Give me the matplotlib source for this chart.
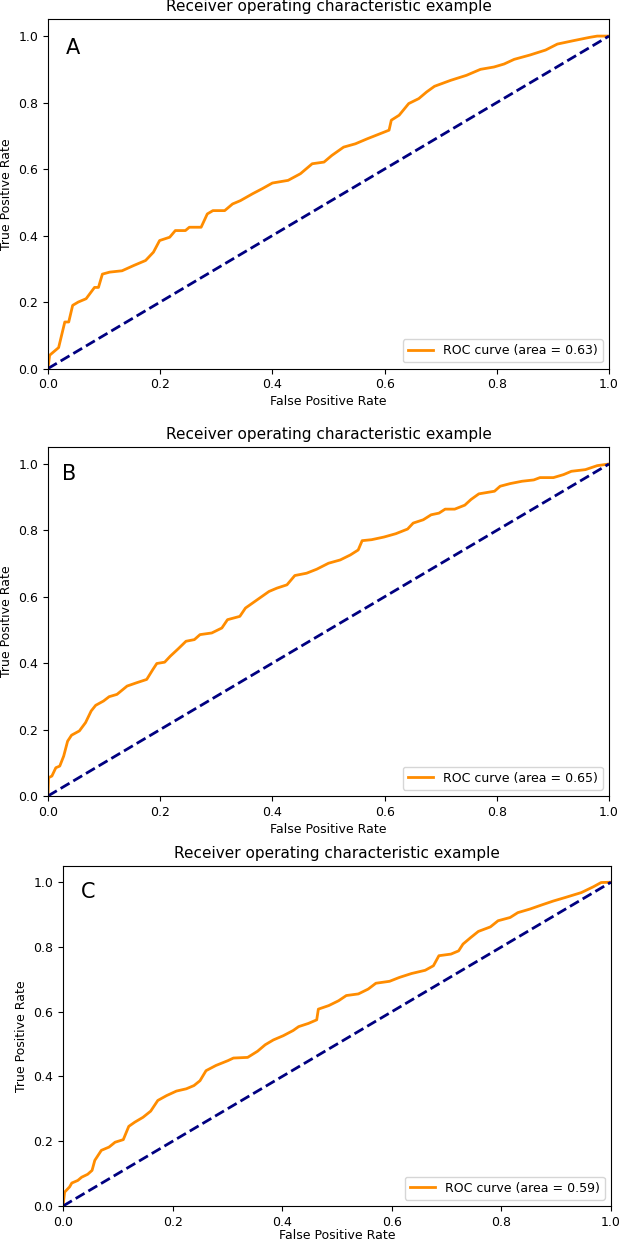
import matplotlib
matplotlib.use("Agg")
import matplotlib.pyplot as plt

# ROC curve points (fpr, tpr) for the three panels
fpr_a = [0.0, 0.003, 0.019, 0.030, 0.037, 0.044, 0.054, 0.068, 0.083, 0.090, 0.097, 0.110,
         0.132, 0.153, 0.174, 0.188, 0.199, 0.217, 0.227, 0.245, 0.252, 0.273, 0.284, 0.294,
         0.315, 0.329, 0.343, 0.365, 0.382, 0.400, 0.428, 0.450, 0.471, 0.492, 0.506, 0.527,
         0.548, 0.569, 0.584, 0.608, 0.612, 0.626, 0.643, 0.661, 0.675, 0.689, 0.718, 0.746,
         0.771, 0.795, 0.813, 0.831, 0.859, 0.887, 0.908, 0.936, 0.965, 0.979, 1.0]
tpr_a = [0.0, 0.040, 0.063, 0.140, 0.140, 0.190, 0.200, 0.210, 0.244, 0.244, 0.284, 0.290,
         0.294, 0.310, 0.325, 0.350, 0.385, 0.395, 0.415, 0.415, 0.425, 0.425, 0.465, 0.475,
         0.475, 0.495, 0.505, 0.526, 0.541, 0.558, 0.566, 0.586, 0.616, 0.621, 0.641, 0.666,
         0.676, 0.691, 0.701, 0.717, 0.747, 0.762, 0.797, 0.812, 0.832, 0.849, 0.867, 0.882,
         0.900, 0.907, 0.916, 0.930, 0.943, 0.958, 0.976, 0.986, 0.996, 1.0, 1.0]

fpr_b = [0.0, 0.001, 0.007, 0.014, 0.021, 0.028, 0.035, 0.042, 0.056, 0.067, 0.077, 0.085,
         0.099, 0.109, 0.123, 0.141, 0.158, 0.176, 0.187, 0.194, 0.208, 0.218, 0.232, 0.246,
         0.261, 0.271, 0.292, 0.310, 0.320, 0.342, 0.352, 0.373, 0.394, 0.408, 0.426, 0.440,
         0.461, 0.479, 0.500, 0.521, 0.539, 0.553, 0.560, 0.577, 0.599, 0.620, 0.641, 0.651,
         0.669, 0.683, 0.697, 0.708, 0.725, 0.743, 0.754, 0.768, 0.782, 0.796, 0.806, 0.824,
         0.845, 0.866, 0.877, 0.901, 0.919, 0.933, 0.958, 0.979, 1.0]
tpr_b = [0.0, 0.055, 0.060, 0.085, 0.090, 0.120, 0.165, 0.183, 0.196, 0.221, 0.256, 0.273,
         0.286, 0.299, 0.306, 0.331, 0.341, 0.351, 0.381, 0.399, 0.403, 0.421, 0.443, 0.466,
         0.471, 0.486, 0.491, 0.506, 0.531, 0.541, 0.566, 0.591, 0.616, 0.626, 0.636, 0.664,
         0.671, 0.683, 0.701, 0.711, 0.726, 0.741, 0.769, 0.772, 0.780, 0.790, 0.804, 0.822,
         0.832, 0.847, 0.852, 0.864, 0.864, 0.876, 0.893, 0.910, 0.914, 0.918, 0.933, 0.941,
         0.948, 0.952, 0.959, 0.959, 0.968, 0.978, 0.983, 0.995, 1.0]

fpr_c = [0.0, 0.003, 0.012, 0.016, 0.027, 0.034, 0.045, 0.053, 0.058, 0.070, 0.084, 0.095,
         0.110, 0.120, 0.131, 0.146, 0.160, 0.173, 0.189, 0.207, 0.225, 0.239, 0.250, 0.261,
         0.279, 0.301, 0.311, 0.337, 0.355, 0.369, 0.384, 0.402, 0.420, 0.430, 0.448, 0.463,
         0.466, 0.485, 0.503, 0.517, 0.539, 0.557, 0.571, 0.596, 0.614, 0.636, 0.661, 0.676,
         0.686, 0.708, 0.722, 0.730, 0.744, 0.758, 0.780, 0.794, 0.816, 0.830, 0.852, 0.874,
         0.895, 0.917, 0.946, 0.968, 0.982, 1.0]
tpr_c = [0.0, 0.043, 0.059, 0.071, 0.079, 0.089, 0.098, 0.110, 0.141, 0.172, 0.182, 0.197,
         0.205, 0.246, 0.259, 0.274, 0.293, 0.326, 0.341, 0.355, 0.362, 0.372, 0.387, 0.418,
         0.434, 0.449, 0.457, 0.459, 0.478, 0.498, 0.513, 0.526, 0.542, 0.554, 0.564, 0.575,
         0.608, 0.619, 0.634, 0.650, 0.655, 0.670, 0.688, 0.694, 0.706, 0.718, 0.728, 0.742,
         0.773, 0.778, 0.788, 0.809, 0.829, 0.848, 0.862, 0.881, 0.891, 0.906, 0.917, 0.930,
         0.942, 0.953, 0.968, 0.986, 0.999, 1.0]

panels = ["A", "B", "C"]
aucs = [0.63, 0.65, 0.59]
fprs = [fpr_a, fpr_b, fpr_c]
tprs = [tpr_a, tpr_b, tpr_c]

# axes rectangles in figure fractions (left, bottom, width, height)
rects = [
    [0.0775, 0.7028, 0.9063, 0.2815],
    [0.0775, 0.3581, 0.9063, 0.2811],
    [0.1018, 0.0274, 0.8852, 0.2742],
]
letter_pos = [(0.045, 0.964), (0.038, 0.97), (0.046, 0.97)]
xlabel_pads = [3, 3, 0]

fig = plt.figure(figsize=(6.19, 12.4), dpi=100)

for name, auc, fpr, tpr, rect, (lx, ly), pad in zip(panels, aucs, fprs, tprs, rects,
                                                    letter_pos, xlabel_pads):
    ax = fig.add_axes(rect)
    ax.plot(fpr, tpr, color="darkorange", lw=2, label=f"ROC curve (area = {auc:.2f})")
    ax.plot([0, 1], [0, 1], color="navy", lw=2, linestyle="--")
    ax.set_xlim([0.0, 1.0])
    ax.set_ylim([0.0, 1.05])
    ax.set_xlabel("False Positive Rate", fontsize=9, labelpad=pad)
    ax.set_ylabel("True Positive Rate", fontsize=9)
    ax.set_title("Receiver operating characteristic example", fontsize=11)
    ax.tick_params(labelsize=9)
    ax.legend(loc="lower right", fontsize=9)
    ax.text(lx, ly, name, fontsize=15, ha="center", va="center")

fig.savefig("out.png", dpi=100)
